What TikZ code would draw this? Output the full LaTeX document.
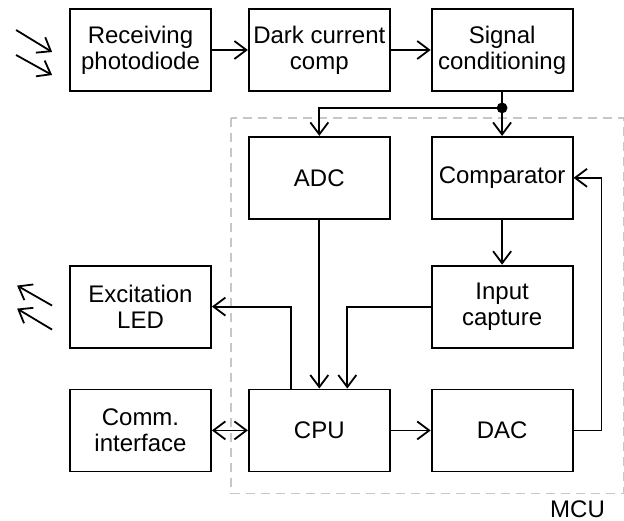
\documentclass[tikz,border=0pt]{standalone}
\usepackage{fontspec}
\setmainfont{Liberation Sans}
\usepackage{tikz}
\usetikzlibrary{arrows.meta, positioning, backgrounds}

\begin{document}
\begin{tikzpicture}[
    >={Straight Barb[length=6pt,width=9pt]},
    every node/.style={font=\fontsize{12pt}{13pt}\selectfont},
    block/.style={draw, rectangle, line width=0.9pt, minimum height=41pt, minimum width=70.5pt, align=center, inner sep=0pt},
    link/.style={line width=0.9pt, ->},
    mcu/.style={draw=black!22, line width=0.8pt, dash pattern=on 4.5pt off 3pt}
]
    \useasboundingbox (-70.25pt,25pt) rectangle (241.75pt,-235pt);
    % Top row: optical front end
    \node[block] (photo) at (0,0) {Receiving\\photodiode};
    \node[block, right=18pt of photo] (dark) {Dark current\\comp};
    \node[block, right=20pt of dark] (sig) {Signal\\conditioning};
    % MCU blocks
    \node[block, below=22pt of dark] (adc) {ADC};
    \node[block, below=22pt of sig] (comp) {Comparator};
    \node[block, below=22.5pt of comp] (inp) {Input\\capture};
    \node[block, below=20pt of inp] (dac) {DAC};
    \node[block, left=20pt of dac] (cpu) {CPU};
    % Peripherals outside the MCU
    \node[block, left=18pt of cpu] (comm) {Comm.\\interface};
    \node[block, above=20pt of comm] (led) {Excitation\\LED};
    % MCU boundary
    \coordinate (mcunw) at ([shift={(-8.5pt,9pt)}]adc.north west);
    \coordinate (mcuse) at ([shift={(25pt,-10.5pt)}]dac.south east);
    \begin{scope}[on background layer]
        \draw[mcu] (mcunw) rectangle (mcuse);
    \end{scope}
    \node[inner sep=0pt] (mculabel) at ([shift={(-23pt,-8pt)}]mcuse) {MCU};
    % Signal path
    \draw[link] (photo) -- (dark);
    \draw[link] (dark) -- (sig);
    \coordinate (junc) at ([yshift=-8pt]sig.south);
    \draw[link] (sig.south) -- (junc) -- (comp.north);
    \draw[link] (junc) -| (adc.north);
    \fill (junc) circle (2.7pt);
    \draw[link] (comp) -- (inp);
    \draw[link] (adc) -- (cpu);
    \draw[link] (inp.west) -| ([xshift=14pt]cpu.north);
    \draw[link] ([xshift=-14pt]cpu.north) |- (led.east);
    \draw[link] (cpu) -- (dac);
    \draw[link] (dac.east) -- ++(14pt,0) |- (comp.east);
    \draw[link, <->] (comm) -- (cpu);
    % Incoming light
    \coordinate (rxa1) at ([shift={(-26.5pt,10pt)}]photo.west);
    \coordinate (rxa2) at ([shift={(-8.5pt,-1pt)}]photo.west);
    \coordinate (rxb1) at ([shift={(-26.5pt,-2.5pt)}]photo.west);
    \coordinate (rxb2) at ([shift={(-8.5pt,-12.5pt)}]photo.west);
    \draw[link] (rxa1) -- (rxa2);
    \draw[link] (rxb1) -- (rxb2);
    % Emitted light
    \coordinate (txa1) at ([shift={(-8.5pt,0.5pt)}]led.west);
    \coordinate (txa2) at ([shift={(-26pt,10.5pt)}]led.west);
    \coordinate (txb1) at ([shift={(-8.5pt,-11.5pt)}]led.west);
    \coordinate (txb2) at ([shift={(-26pt,-1pt)}]led.west);
    \draw[link] (txa1) -- (txa2);
    \draw[link] (txb1) -- (txb2);
\end{tikzpicture}
\end{document}
